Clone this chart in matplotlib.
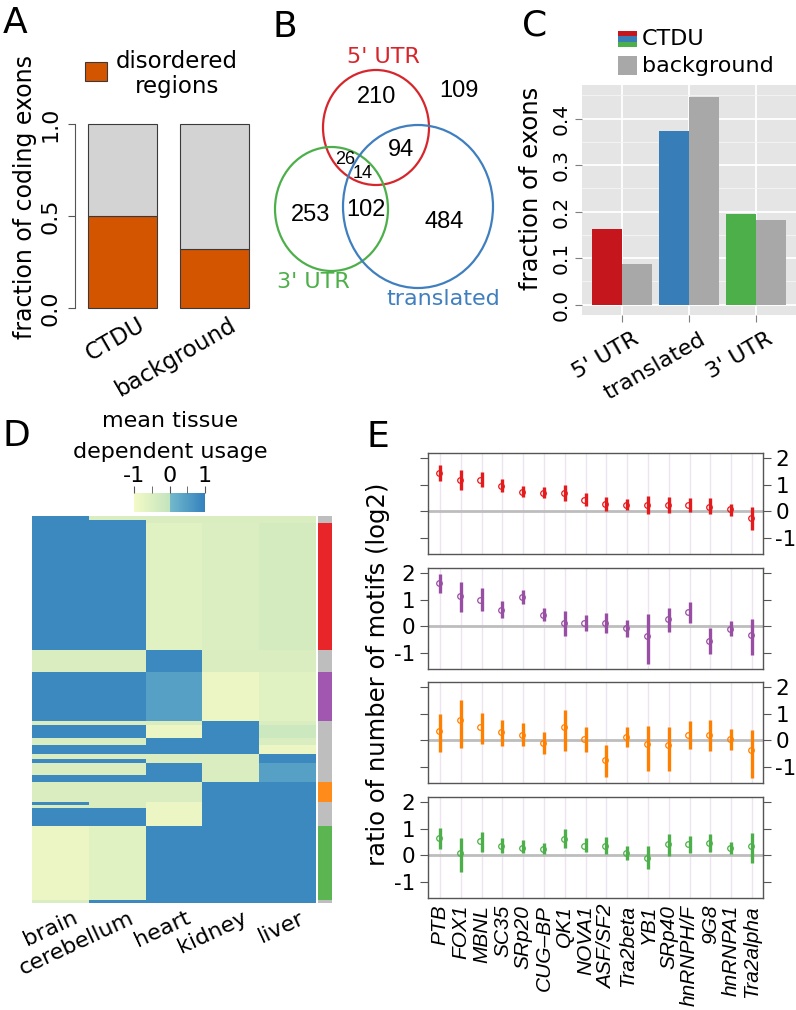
import numpy as np
import matplotlib
matplotlib.use('Agg')
import matplotlib.pyplot as plt
from matplotlib.patches import Ellipse, Rectangle
from matplotlib.colors import LinearSegmentedColormap, ListedColormap, Normalize
from matplotlib.cm import ScalarMappable
import matplotlib.transforms as mtransforms

plt.rcParams['font.family'] = 'DejaVu Sans'
plt.rcParams['axes.unicode_minus'] = False

W, H = 796, 1010

# ---------------- data ----------------
# A: fraction of coding exons overlapping disordered regions
a_groups = ['CTDU', 'background']
a_disordered = [0.50, 0.32]

# B: venn counts
venn_5only, venn_3only, venn_tronly = 210, 253, 484
venn_5_tr, venn_5_3, venn_all, venn_3_tr = 94, 26, 14, 102
venn_none = 109

# C: fraction of exons per region
c_regions = ["5' UTR", 'translated', "3' UTR"]
c_ctdu = [0.162, 0.374, 0.195]
c_background = [0.088, 0.447, 0.181]

# D: heatmap blocks (rows per block, mean usage per tissue, side group)
tissues = ['brain', 'cerebellum', 'heart', 'kidney', 'liver']
HI, MD, LO, YL = 0.85, 0.45, -0.45, -0.85
block_rows = [4, 3, 127, 22, 49, 4, 13, 7, 9, 5, 4, 12, 7, 20, 3, 3, 18, 74, 3]
block_values = [
    [HI, LO, LO, LO, LO],
    [HI, HI, LO, LO, LO],
    [HI, HI, -0.6, -0.5, -0.35],
    [LO, LO, HI, LO, LO],
    [HI, HI, MD, YL, -0.6],
    [LO, LO, LO, HI, LO],
    [HI, HI, YL, HI, -0.2],
    [LO, LO, HI, HI, LO],
    [HI, HI, HI, HI, YL],
    [LO, LO, LO, LO, HI],
    [HI, HI, LO, LO, HI],
    [LO, LO, HI, LO, MD],
    [HI, HI, HI, LO, MD],
    [LO, LO, LO, HI, HI],
    [HI, LO, YL, HI, HI],
    [LO, LO, YL, HI, HI],
    [HI, HI, YL, HI, HI],
    [YL, -0.6, HI, HI, HI],
    [LO, HI, HI, HI, HI],
]
block_group = [0, 0, 1, 0, 2, 0, 0, 0, 0, 0, 0, 0, 0, 3, 0, 0, 0, 4, 0]

# E: log2 ratio of motif numbers (median, low, high) per RBP
rbp = ['PTB', 'FOX1', 'MBNL', 'SC35', 'SRp20', 'CUG\u2013BP', 'QK1', 'NOVA1',
       'ASF/SF2', 'Tra2beta', 'YB1', 'SRp40', 'hnRNPH/F', '9G8', 'hnRNPA1', 'Tra2alpha']
red_mid = [1.43, 1.18, 1.18, 0.95, 0.73, 0.67, 0.67, 0.42, 0.25, 0.23, 0.23, 0.23, 0.23, 0.16, 0.06, -0.25]
red_lo = [1.15, 0.80, 0.89, 0.71, 0.54, 0.48, 0.39, 0.20, 0.00, 0.04, -0.11, -0.09, -0.03, -0.11, -0.18, -0.72]
red_hi = [1.75, 1.53, 1.47, 1.20, 0.95, 0.89, 0.99, 0.67, 0.52, 0.46, 0.58, 0.54, 0.48, 0.48, 0.27, 0.16]
pur_mid = [1.61, 1.12, 0.99, 0.62, 1.11, 0.43, 0.10, 0.10, 0.11, -0.09, -0.36, 0.26, 0.52, -0.55, -0.11, -0.33]
pur_lo = [1.25, 0.52, 0.58, 0.30, 0.83, 0.18, -0.39, -0.20, -0.26, -0.43, -1.43, -0.21, 0.11, -1.06, -0.39, -1.08]
pur_hi = [1.96, 1.65, 1.42, 0.96, 1.37, 0.68, 0.55, 0.42, 0.49, 0.24, 0.45, 0.68, 0.89, -0.08, 0.20, 0.26]
ora_mid = [0.35, 0.76, 0.48, 0.29, 0.19, -0.11, 0.48, 0.04, -0.74, 0.10, -0.15, -0.19, 0.19, 0.19, 0.04, -0.38]
ora_lo = [-0.46, -0.30, -0.15, -0.24, -0.24, -0.53, -0.40, -0.46, -1.40, -0.25, -1.15, -1.18, -0.35, -0.40, -0.36, -1.43]
ora_hi = [0.98, 1.50, 1.01, 0.75, 0.63, 0.29, 1.14, 0.48, -0.18, 0.51, 0.54, 0.50, 0.70, 0.75, 0.41, 0.39]
grn_mid = [0.63, 0.09, 0.53, 0.36, 0.28, 0.21, 0.62, 0.36, 0.34, 0.09, -0.10, 0.43, 0.40, 0.47, 0.28, 0.34]
grn_lo = [0.21, -0.63, 0.13, 0.09, 0.06, 0.03, 0.25, 0.13, 0.03, -0.20, -0.54, -0.04, 0.09, 0.11, 0.03, -0.29]
grn_hi = [1.03, 0.65, 0.88, 0.65, 0.55, 0.47, 0.97, 0.65, 0.68, 0.36, 0.36, 0.80, 0.72, 0.80, 0.50, 0.84]

RED, BLUE, GREEN, PURPLE, ORANGE = '#E41A1C', '#377EB8', '#4DAF4A', '#984EA3', '#FF7F00'

fig = plt.figure(figsize=(W / 100, H / 100), dpi=100)


def px_axes(x0, y0, x1, y1):
    return fig.add_axes([x0 / W, 1 - y1 / H, (x1 - x0) / W, (y1 - y0) / H])


# ---------------- A ----------------
axA = px_axes(75, 124, 258, 308)
xa = np.arange(len(a_groups))
dis = np.array(a_disordered)
axA.bar(xa, dis, width=0.754, color='#D45500', edgecolor='#3a3a3a', lw=0.8, clip_on=False)
axA.bar(xa, 1 - dis, bottom=dis, width=0.754, color='#D3D3D3', edgecolor='#3a3a3a', lw=0.8, clip_on=False)
axA.set_xlim(-0.52, 1.48)
axA.set_ylim(0, 1)
for s in ['top', 'right', 'bottom']:
    axA.spines[s].set_visible(False)
axA.spines['left'].set_color('#555555')
axA.set_yticks([0, 0.5, 1])
axA.set_yticklabels(['0.0', '0.5', '1.0'], rotation=90, va='center', fontsize=16)
axA.tick_params(axis='y', length=5, color='#555555', pad=5.5)
axA.set_xticks([])
trA = mtransforms.blended_transform_factory(axA.transData, axA.transAxes)
for i, g in enumerate(a_groups):
    axA.text(i + 0.16, -0.03, g, transform=trA, rotation=30, ha='right', va='top',
             rotation_mode='anchor', fontsize=16.5)
axA.text(-0.273, 0.603, 'fraction of coding exons', transform=axA.transAxes,
         rotation=90, ha='center', va='center', fontsize=17)

# ---------------- C ----------------
axC = px_axes(582, 85, 796, 315)
xc = np.arange(1, 4)
bw = 0.45
axC.bar(xc - bw / 2, c_ctdu, width=bw, color=['#C4161C', BLUE, GREEN], zorder=3)
axC.bar(xc + bw / 2, c_background, width=bw, color='#A8A8A8', zorder=3)
axC.set_xlim(0.4, 3.6)
axC.set_ylim(-0.0225, 0.4725)
axC.set_facecolor('#E5E5E5')
axC.set_yticks(np.arange(0, 0.41, 0.1))
axC.set_yticks(np.arange(0.05, 0.46, 0.1), minor=True)
axC.set_yticklabels(['0.0', '0.1', '0.2', '0.3', '0.4'], rotation=90, va='center', fontsize=14.5)
axC.set_xticks(xc)
axC.set_xticklabels([])
axC.grid(which='major', color='white', lw=1.3)
axC.grid(which='minor', axis='y', color='#F5F5F5', lw=0.6)
axC.set_axisbelow(True)
for s in axC.spines.values():
    s.set_visible(False)
axC.tick_params(which='major', length=5, color='#7F7F7F', pad=3)
axC.tick_params(which='minor', length=0)
trC = mtransforms.blended_transform_factory(axC.transData, axC.transAxes)
for i, r in enumerate(c_regions):
    axC.text(xc[i] + 0.15, -0.06, r, transform=trC, rotation=30, ha='right', va='top',
             rotation_mode='anchor', fontsize=16)
axC.text(-0.24, 0.55, 'fraction of exons', transform=axC.transAxes, rotation=90,
         ha='center', va='center', fontsize=17.5)

# ---------------- D ----------------
cmap = LinearSegmentedColormap.from_list(
    'tdu', [(0, '#F4FAC6'), (0.499, '#C3E4BE'), (0.501, '#74BACB'), (1, '#3381BE')])
axD = px_axes(32, 516, 316, 903)
mat = np.repeat(np.array(block_values), block_rows, axis=0)
axD.imshow(mat, aspect='auto', cmap=cmap, vmin=-1, vmax=1, interpolation='nearest')
axD.set_xticks([])
axD.set_yticks([])
for s in axD.spines.values():
    s.set_visible(False)
trD = mtransforms.blended_transform_factory(axD.transData, axD.transAxes)
for i, t in enumerate(tissues):
    axD.text(i + 0.2, -0.012, t, transform=trD, rotation=25, ha='right', va='top',
             rotation_mode='anchor', fontsize=16)

axS = px_axes(318, 516, 332, 903)
grp = np.repeat(np.array(block_group), block_rows)[:, None]
axS.imshow(grp, aspect='auto', interpolation='nearest', vmin=0, vmax=4,
           cmap=ListedColormap(['#BEBEBE', '#E8262A', '#A157B0', '#FF8C1A', '#5BB652']))
axS.set_xticks([])
axS.set_yticks([])
for s in axS.spines.values():
    s.set_visible(False)

cax = px_axes(134, 493, 205, 512)
cb = fig.colorbar(ScalarMappable(norm=Normalize(-1, 1), cmap=cmap), cax=cax, orientation='horizontal')
cb.outline.set_visible(False)
cb.set_ticks([-1, 0, 1])
cb.set_ticklabels(['-1', '0', '1'])
cax.xaxis.set_ticks_position('top')
cax.set_xticks([-0.5, 0.5], minor=True)
cax.tick_params(which='both', length=5, color='#555555', labelsize=16, pad=0)

# ---------------- E ----------------
e_sets = [(red_mid, red_lo, red_hi, RED, 'right'),
          (pur_mid, pur_lo, pur_hi, PURPLE, 'left'),
          (ora_mid, ora_lo, ora_hi, ORANGE, 'right'),
          (grn_mid, grn_lo, grn_hi, GREEN, 'left')]
e_tops = [453, 568, 682, 797]
xe = np.arange(1, len(rbp) + 1)
for k, (mid, lo, hi, col, side) in enumerate(e_sets):
    ax = px_axes(428, e_tops[k], 763, e_tops[k] + 101)
    for xi in xe:
        ax.axvline(xi, color='#ECE4EE', lw=1, zorder=0)
    ax.axhline(0, color='#BDBDBD', lw=2, zorder=1)
    ax.vlines(xe, lo, hi, color=col, lw=2.4, zorder=3)
    ax.plot(xe - 0.06, mid, 'o', mfc='none', mec=col, ms=4, mew=0.9, zorder=4)
    ax.set_xlim(0.42, 16.53)
    ax.set_ylim(-1.62, 2.19)
    ax.set_yticks([-1, 0, 1, 2])
    ax.set_yticklabels(['-1', '0', '1', '2'])
    ax.yaxis.set_ticks_position('both')
    ax.tick_params(axis='y', direction='out', length=6, color='#555555', labelsize=15.5,
                   labelleft=(side == 'left'), labelright=(side == 'right'), pad=3)
    ax.set_xticks(xe)
    ax.tick_params(axis='x', length=0)
    if k == 3:
        ax.set_xticklabels(rbp, rotation=90, fontstyle='italic', family='Liberation Sans',
                           fontsize=15)
        ax.tick_params(axis='x', pad=5)
    else:
        ax.set_xticklabels([])
    for s in ax.spines.values():
        s.set_color('#555555')
        s.set_linewidth(1)

# ---------------- overlay: venn, legends, letters ----------------
ov = fig.add_axes([0, 0, 1, 1], zorder=10)
ov.set_xlim(0, W)
ov.set_ylim(H, 0)
ov.axis('off')
ov.patch.set_alpha(0)

# B venn
ov.add_patch(Ellipse((376, 127.5), 106, 115, fill=False, ec='#D7262B', lw=1.6))
ov.add_patch(Ellipse((331.5, 209), 113, 124, fill=False, ec=GREEN, lw=1.6))
ov.add_patch(Ellipse((418, 206.5), 150, 163, fill=False, ec='#3F7FBF', lw=1.6))
num_kw = dict(ha='center', va='center', family='Liberation Sans')
ov.text(377, 97, str(venn_5only), fontsize=17, **num_kw)
ov.text(459, 91, str(venn_none), fontsize=17, **num_kw)
ov.text(401, 150, str(venn_5_tr), fontsize=17, **num_kw)
ov.text(345, 159, str(venn_5_3), fontsize=13, **num_kw)
ov.text(363, 173, str(venn_all), fontsize=13, **num_kw)
ov.text(311, 215, str(venn_3only), fontsize=17, **num_kw)
ov.text(366, 210, str(venn_3_tr), fontsize=17, **num_kw)
ov.text(444, 222, str(venn_tronly), fontsize=17, **num_kw)
ov.text(383, 57, "5' UTR", color='#D7262B', fontsize=16, ha='center', va='center')
ov.text(313, 282, "3' UTR", color=GREEN, fontsize=16, ha='center', va='center')
ov.text(443, 299, 'translated', color='#3F7FBF', fontsize=16, ha='center', va='center')

# A legend
ov.add_patch(Rectangle((85, 62), 22, 19, fc='#D45500', ec='#3a3a3a', lw=0.8))
ov.text(177, 62, 'disordered', fontsize=16.5, ha='center', va='center')
ov.text(177, 87, 'regions', fontsize=16.5, ha='center', va='center')

# C legend
ov.add_patch(Rectangle((618, 31), 19, 5.4, fc='#C4161C', ec='none'))
ov.add_patch(Rectangle((618, 36.4), 19, 5.3, fc=BLUE, ec='none'))
ov.add_patch(Rectangle((618, 41.7), 19, 5.3, fc=GREEN, ec='none'))
ov.add_patch(Rectangle((618, 56), 19, 19, fc='#A8A8A8', ec='none'))
ov.text(642, 39, 'CTDU', fontsize=16, ha='left', va='center')
ov.text(642, 66, 'background', fontsize=16, ha='left', va='center')

# D title
ov.text(170, 427, 'mean tissue', fontsize=16, ha='center', va='baseline')
ov.text(170, 458, 'dependent usage', fontsize=16, ha='center', va='baseline')

# E y label
ov.text(378, 674, 'ratio of number of motifs (log2)', fontsize=17.5, rotation=90,
        ha='center', va='center')

# panel letters
for lab, x, y in [('A', 3, 33), ('B', 272, 37), ('C', 522, 35), ('D', 3, 446), ('E', 367, 447)]:
    ov.text(x, y, lab, fontsize=26, ha='left', va='baseline')

fig.savefig('out.png', dpi=100)
